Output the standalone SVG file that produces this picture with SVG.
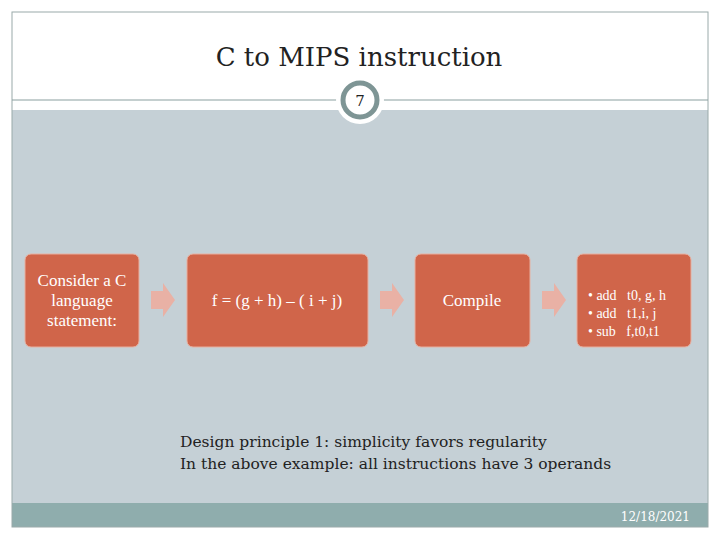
<svg xmlns="http://www.w3.org/2000/svg" width="720" height="540" viewBox="0 0 720 540">
<style>
.t{font-family:"DejaVu Serif",serif;fill:#222}
.w{font-family:"Liberation Serif",serif;fill:#fff;font-size:17px}
.box{fill:#d0654a;stroke:#e8b0a0;stroke-width:1}
.arr{fill:#e9b1a5}
</style>
<rect x="0" y="0" width="720" height="540" fill="#fff"/>
<rect x="12" y="110" width="696" height="393" fill="#c5d0d6"/>
<rect x="12" y="503" width="696" height="24" fill="#8fadad"/>
<rect x="12" y="12" width="696" height="515" fill="none" stroke="#9aaaaa" stroke-width="1"/>
<line x1="12" y1="100" x2="708" y2="100" stroke="#8a9f9f" stroke-width="1"/>
<text class="t" x="359" y="66" font-size="26" text-anchor="middle" fill="#333">C to MIPS instruction</text>
<circle cx="360" cy="100" r="24" fill="#fff"/>
<circle cx="360" cy="100" r="17" fill="#fff" stroke="#7e9595" stroke-width="5"/>
<text class="t" x="360" y="106" font-size="15" text-anchor="middle" fill="#555">7</text>
<g id="connectors">
<path class="arr" d="M151,291 h12 v-8 l12,17 -12,17 v-8 h-12 z"/>
<path class="arr" d="M380,291 h12 v-8 l12,17 -12,17 v-8 h-12 z"/>
<path class="arr" d="M542,291 h12 v-8 l12,17 -12,17 v-8 h-12 z"/>
</g>
<g id="n1"><rect class="box" x="25" y="254" width="114" height="93" rx="6"/>
<text class="w" text-anchor="middle"><tspan x="82" y="286">Consider a C</tspan><tspan x="82" y="306">language</tspan><tspan x="82" y="326">statement:</tspan></text></g>
<g id="n2"><rect class="box" x="187" y="254" width="181" height="93" rx="6"/>
<text class="w" x="277" y="306" text-anchor="middle">f = (g + h) – ( i + j)</text></g>
<g id="n3"><rect class="box" x="415" y="254" width="115" height="93" rx="6"/>
<text class="w" x="472" y="306" text-anchor="middle">Compile</text></g>
<g id="n4"><rect class="box" x="577" y="254" width="114" height="93" rx="6"/>
<text class="w" style="font-size:14px" xml:space="preserve"><tspan x="588" y="300">• add   t0, g, h</tspan><tspan x="588" y="318">• add   t1,i, j</tspan><tspan x="588" y="336">• sub   f,t0,t1</tspan></text></g>
<text class="t" font-size="15.5"><tspan x="180" y="447">Design principle 1: simplicity favors regularity</tspan><tspan x="180" y="469">In the above example: all instructions have 3 operands</tspan></text>
<text x="690" y="521" font-family="DejaVu Serif,serif" font-size="12" fill="#fff" text-anchor="end">12/18/2021</text>
</svg>
